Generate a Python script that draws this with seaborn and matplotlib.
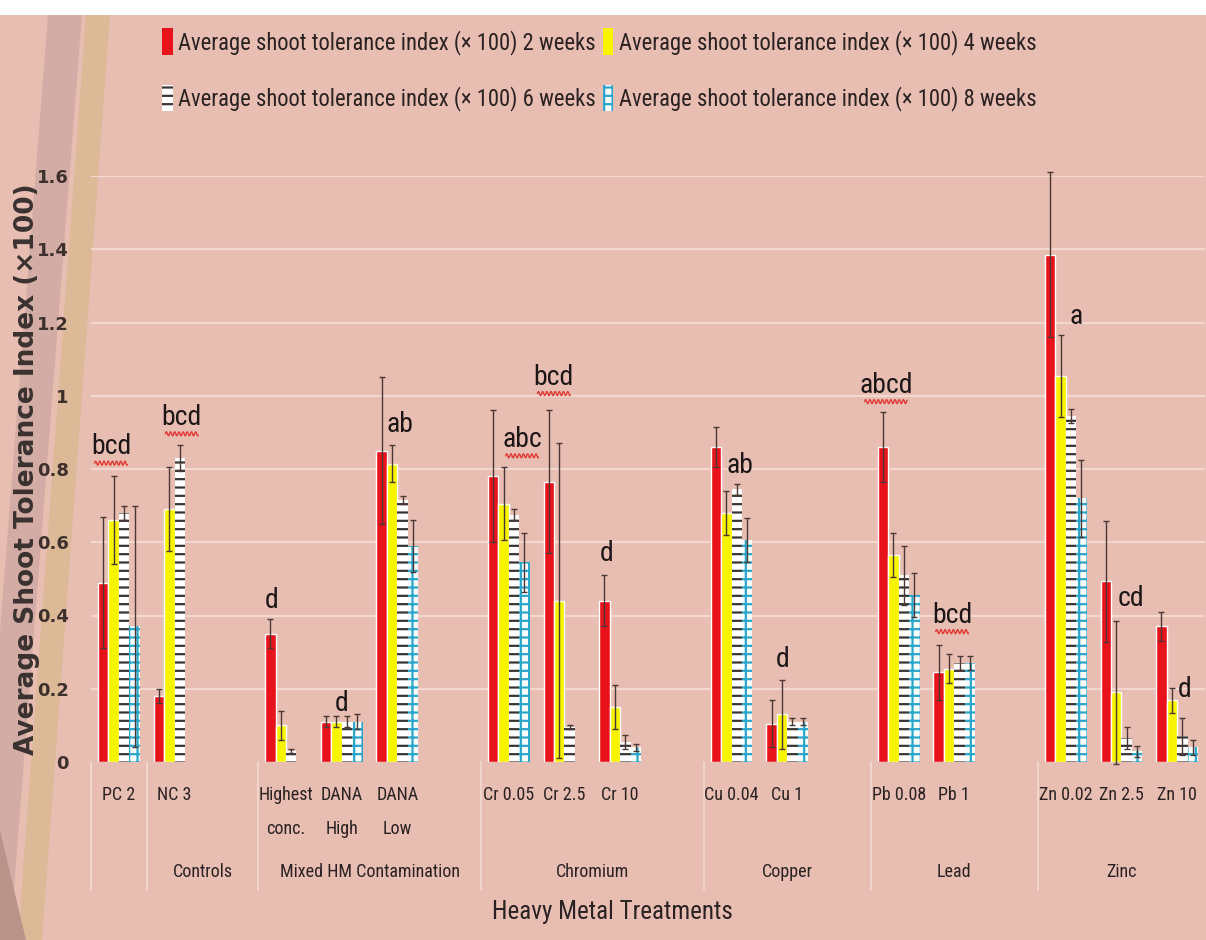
import numpy as np
import pandas as pd
import matplotlib
matplotlib.use("Agg")
import matplotlib.pyplot as plt
import matplotlib.transforms as mtransforms
from matplotlib import font_manager
from matplotlib.patches import Patch, Polygon, Rectangle
import seaborn as sns

# ---------------------------------------------------------------- data
treatments = ["PC 2", "NC 3", "Highest conc.", "DANA High", "DANA Low",
              "Cr 0.05", "Cr 2.5", "Cr 10", "Cu 0.04", "Cu 1",
              "Pb 0.08", "Pb 1", "Zn 0.02", "Zn 2.5", "Zn 10"]
tick_labels = ["PC 2", "NC 3", "Highest\nconc.", "DANA\nHigh", "DANA\nLow",
               "Cr 0.05", "Cr 2.5", "Cr 10", "Cu 0.04", "Cu 1",
               "Pb 0.08", "Pb 1", "Zn 0.02", "Zn 2.5", "Zn 10"]
groups = ["", "Controls", "Mixed HM Contamination", "Chromium",
          "Copper", "Lead", "Zinc"]
group_members = [["PC 2"], ["NC 3"], ["Highest conc.", "DANA High", "DANA Low"],
                 ["Cr 0.05", "Cr 2.5", "Cr 10"], ["Cu 0.04", "Cu 1"],
                 ["Pb 0.08", "Pb 1"], ["Zn 0.02", "Zn 2.5", "Zn 10"]]

series = ["Average shoot tolerance index (× 100) 2 weeks",
          "Average shoot tolerance index (× 100) 4 weeks",
          "Average shoot tolerance index (× 100) 6 weeks",
          "Average shoot tolerance index (× 100) 8 weeks"]

nan = np.nan
week2 = [0.49, 0.18, 0.35, 0.11, 0.85, 0.78, 0.765, 0.44, 0.86, 0.105,
         0.86, 0.245, 1.385, 0.493, 0.37]
week2_err = [0.18, 0.02, 0.04, 0.015, 0.20, 0.18, 0.195, 0.07, 0.055, 0.065,
             0.095, 0.075, 0.225, 0.165, 0.04]
week4 = [0.66, 0.69, 0.10, 0.11, 0.815, 0.705, 0.44, 0.15, 0.68, 0.13,
         0.565, 0.255, 1.055, 0.19, 0.168]
week4_err = [0.12, 0.115, 0.04, 0.015, 0.05, 0.10, 0.43, 0.06, 0.06, 0.095,
             0.06, 0.04, 0.112, 0.195, 0.035]
week6 = [0.68, 0.83, 0.03, 0.11, 0.715, 0.675, 0.095, 0.055, 0.745, 0.11,
         0.51, 0.27, 0.945, 0.065, 0.07]
week6_err = [0.02, 0.035, 0.005, 0.015, 0.01, 0.015, 0.005, 0.02, 0.015, 0.01,
             0.08, 0.02, 0.02, 0.03, 0.05]
week8 = [0.37, nan, nan, 0.11, 0.59, 0.545, nan, 0.04, 0.605, 0.11,
         0.455, 0.27, 0.72, 0.03, 0.04]
week8_err = [0.33, nan, nan, 0.02, 0.07, 0.08, nan, 0.01, 0.06, 0.01,
             0.06, 0.02, 0.105, 0.015, 0.02]

letters = ["bcd", "bcd", "d", "d", "ab", "abc", "bcd", "d", "ab", "d",
           "abcd", "bcd", "a", "cd", "d"]
underlined = ["bcd", "abc", "abcd"]

# ---------------------------------------------------------------- layout
# category slots (blank slots separate the treatment groups)
slot_order = ["PC 2", "NC 3", "gap1", "Highest conc.", "DANA High", "DANA Low",
              "gap2", "Cr 0.05", "Cr 2.5", "Cr 10", "gap3", "Cu 0.04", "Cu 1",
              "gap4", "Pb 0.08", "Pb 1", "gap5", "Zn 0.02", "Zn 2.5", "Zn 10"]
# letter anchors: offset from the category centre, baseline height
letter_pos = [(-0.14, 0.84), (0.13, 0.92), (-0.25, 0.42), (0.0, 0.14),
              (0.05, 0.90), (0.24, 0.86), (-0.19, 1.03), (-0.25, 0.55),
              (0.15, 0.79), (-0.08, 0.26), (-0.23, 1.008), (-0.04, 0.38),
              (0.18, 1.195), (0.17, 0.425), (0.14, 0.178)]

BG = "#e8bdb2"
RED = "#e8121a"
YELLOW = "#f8f400"
DARK = "#2a2222"


def pick_font(*names):
    for n in names:
        try:
            font_manager.findfont(n, fallback_to_default=False)
            return n
        except Exception:
            pass
    return "DejaVu Sans"


NARROW = pick_font("Liberation Sans Narrow", "Roboto Condensed", "DejaVu Sans")

sns.set_theme(style="white")
plt.rcParams["font.family"] = [NARROW, "DejaVu Sans"]
plt.rcParams["hatch.linewidth"] = 1.6

W, H = 1206, 940
fig = plt.figure(figsize=(W / 100, H / 100), dpi=100, facecolor=BG)


def fp(x, y):
    return (x / W, 1 - y / H)


# slide background decoration
fig.patches.append(Rectangle(fp(0, 15), 1, 15 / H, transform=fig.transFigure,
                             facecolor="white", edgecolor="none", zorder=-2))
fig.patches.append(Polygon([fp(48, 15), fp(82, 15), fp(10, 940), fp(-24, 940)],
                           closed=True, transform=fig.transFigure,
                           facecolor="#d2aca5", edgecolor="none", zorder=-2))
fig.patches.append(Polygon([fp(86, 15), fp(110, 15), fp(42, 940), fp(18, 940)],
                           closed=True, transform=fig.transFigure,
                           facecolor="#dcba98", edgecolor="none", zorder=-2))
fig.patches.append(Polygon([fp(0, 830), fp(26, 940), fp(0, 940)],
                           closed=True, transform=fig.transFigure,
                           facecolor="#b8948a", edgecolor="none", zorder=-2))

ax = fig.add_axes([91 / W, 1 - 762 / H, (1205 - 91) / W, (762 - 176) / H])
ax.set_facecolor("none")

# long-form table for seaborn
values = [week2, week4, week6, week8]
errors = [week2_err, week4_err, week6_err, week8_err]
rows = []
for s, vals, errs in zip(series, values, errors):
    for t, v, e in zip(treatments, vals, errs):
        if not np.isnan(v):
            rows.append({"treatment": t, "series": s, "value": v, "err": e})
df = pd.DataFrame(rows)

for y in np.arange(0.2, 1.61, 0.2):
    ax.axhline(y, color="#f3d8d0", lw=1.6, zorder=0)

sns.barplot(data=df, x="treatment", y="value", hue="series",
            order=slot_order, hue_order=series,
            palette=[RED, YELLOW, "white", "white"], saturation=1,
            width=0.75, gap=0, errorbar=None, legend=False, ax=ax, zorder=2)

# patterns for the 6- and 8-week series
for bar in ax.containers[2]:
    bar.set_facecolor("white")
    bar.set_edgecolor("#3a3535")
    bar.set_hatch("--")
    bar.set_linewidth(0)
for bar in ax.containers[3]:
    bar.set_facecolor("white")
    bar.set_edgecolor("#2aa6cc")
    bar.set_hatch("++")
    bar.set_linewidth(0)

# error bars placed on the drawn bars
err_lookup = {(s, t): e for s, t, e in zip(df["series"], df["treatment"], df["err"])}
for s, cont in zip(series, ax.containers):
    xs, hs, es = [], [], []
    for bar in cont:
        h = bar.get_height()
        if np.isnan(h):
            continue
        xc = bar.get_x() + bar.get_width() / 2
        t = slot_order[int(round(xc))]
        xs.append(xc)
        hs.append(h)
        es.append(err_lookup[(s, t)])
    ax.errorbar(xs, hs, yerr=es, fmt="none", ecolor="#4a3834", elinewidth=1.0,
                capsize=2.5, capthick=1.0, zorder=4, clip_on=False)

# significance letters
for t, txt, (dx, yb) in zip(treatments, letters, letter_pos):
    xc = slot_order.index(t) + dx
    ax.text(xc, yb, txt, ha="center", va="baseline", fontsize=20,
            color="#1c1616", zorder=5)
    if txt in underlined:
        w = 0.17 * len(txt) + 0.08
        xs = np.linspace(xc - w / 2, xc + w / 2, 300)
        ys = yb - 0.024 + 0.0055 * np.sin(2 * np.pi * (xs - xs[0]) / 0.075)
        ax.plot(xs, ys, color="#e23a35", lw=1.0, zorder=5)

# axes
ax.set_xlim(-0.5, len(slot_order) - 0.5)
ax.set_ylim(0, 1.6)
yt = [0, 0.2, 0.4, 0.6, 0.8, 1.0, 1.2, 1.4, 1.6]
ax.set_yticks(yt)
ax.set_yticklabels(["0", "0.2", "0.4", "0.6", "0.8", "1", "1.2", "1.4", "1.6"],
                   fontsize=13, fontweight="bold", color="#3d302c",
                   family=["DejaVu Sans"])
ax.tick_params(axis="y", length=0, pad=16)
ax.set_xticks([slot_order.index(t) for t in treatments])
ax.set_xticklabels(tick_labels, fontsize=13, color=DARK, linespacing=2.2,
                   va="top")
ax.tick_params(axis="x", length=0, pad=17)
for sp in ax.spines.values():
    sp.set_visible(False)

ax.set_ylabel("Average Shoot Tolerance Index (×100)", fontsize=19,
              fontweight="bold", color="#3a3230", family=["DejaVu Sans"])
ax.yaxis.set_label_coords(-0.0575, 0.5)
ax.yaxis.label.set_va("center")

ax.set_xlabel("Heavy Metal Treatments", fontsize=18, color=DARK)
ax.xaxis.set_label_coords(0.468, -0.256)
ax.xaxis.label.set_va("center")

# group labels and separators beneath the axis
blend = mtransforms.blended_transform_factory(ax.transData, ax.transAxes)
starts = [slot_order.index(m[0]) - 0.5 for m in group_members]
ends = starts[1:] + [len(slot_order) - 0.5]
for g, a, b in zip(groups, starts, ends):
    ax.text((a + b) / 2, -0.188, g, transform=blend, ha="center", va="center",
            fontsize=13, color=DARK)
for a in starts:
    ax.plot([a, a], [0, -0.218], transform=blend, color="#f2dad3", lw=1.2,
            clip_on=False, zorder=1)

# legend
handles = [Patch(facecolor=RED, edgecolor="none"),
           Patch(facecolor=YELLOW, edgecolor="none"),
           Patch(facecolor="white", edgecolor="#3a3535", hatch="--", lw=0),
           Patch(facecolor="white", edgecolor="#2aa6cc", hatch="++", lw=0)]
order = [0, 2, 1, 3]
fig.legend([handles[i] for i in order], [series[i] for i in order],
           ncol=2, loc="upper left", bbox_to_anchor=fp(142, 8),
           frameon=False, fontsize=16.3, handlelength=0.45, handleheight=1.4,
           handletextpad=0.25, columnspacing=0.3, labelspacing=1.35,
           labelcolor=DARK)

fig.savefig("out.png", dpi=100, facecolor=BG)
